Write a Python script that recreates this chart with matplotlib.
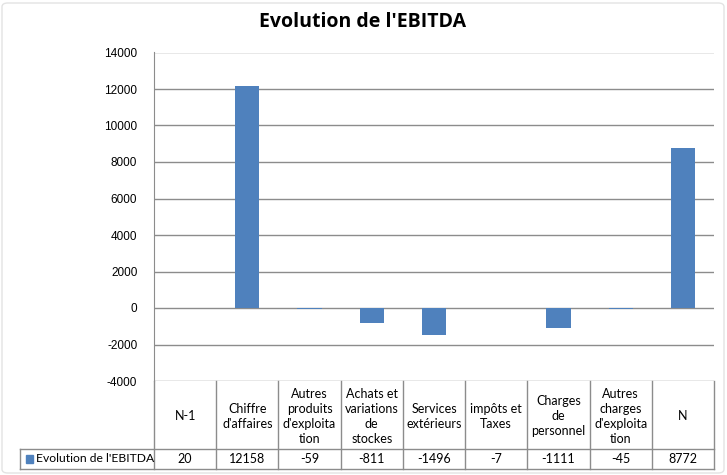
import matplotlib.pyplot as plt
from matplotlib.patches import FancyBboxPatch, Rectangle

categories = ["N-1", "Chiffre\nd'affaires", "Autres\nproduits\nd'exploita\ntion",
              "Achats et\nvariations\nde\nstockes", "Services\nextérieurs",
              "impôts et\nTaxes", "Charges\nde\npersonnel",
              "Autres\ncharges\nd'exploita\ntion", "N"]
values = [20, 12158, -59, -811, -1496, -7, -1111, -45, 8772]
series_name = "Evolution de l'EBITDA"
yticks = list(range(-4000, 14001, 2000))

bar_color = "#4F81BD"
line_color = "#8C8C8C"
plt.rcParams['font.family'] = ['Lato', 'DejaVu Sans']

fig = plt.figure(figsize=(7.27, 4.75), dpi=100)
W, H = 727, 475
# plot area: x 154..714, y 52.5..381 px
ax = fig.add_axes([154 / W, (H - 381) / H, 560 / W, 328.5 / H])

x = list(range(len(values)))
ax.bar(x, values, width=0.39, color=bar_color, zorder=3)
ax.set_xlim(-0.5, len(values) - 0.5)
ax.set_ylim(-4000, 14000)
ax.set_yticks(yticks)
ax.set_yticklabels([str(t) for t in yticks], fontsize=8.5, family=['Liberation Sans'])
ax.tick_params(axis='y', length=0, pad=12)
ax.set_xticks([])
ax.grid(axis='y', color=line_color, lw=1, zorder=0)
for s in ['top', 'right', 'bottom']:
    ax.spines[s].set_visible(False)
ax.spines['left'].set_color(line_color)

fig.suptitle("Evolution de l'EBITDA", x=363 / W, y=1 - 22 / H, va='center',
             fontsize=14, fontweight='bold', family=['Open Sans', 'DejaVu Sans'])

# data table below the axis
tr = ax.get_xaxis_transform()
ph = 328.5
y_head = -68 / ph
y_data = -88 / ph
x_left = -0.5 - 134 / (560 / len(values))
x_right = len(values) - 0.5
kw = dict(transform=tr, color=line_color, lw=1, clip_on=False)
for i in range(len(values) + 1):
    ax.plot([i - 0.5, i - 0.5], [0, y_data], **kw)
ax.plot([x_left, x_right], [y_head, y_head], **kw)
ax.plot([x_left, x_right], [y_data, y_data], **kw)
ax.plot([x_left, x_left], [y_head, y_data], **kw)

for i, (c, v) in enumerate(zip(categories, values)):
    ax.text(i, y_head / 2 - 0.004, c, transform=tr, ha='center', va='center',
            fontsize=9, linespacing=1.3, clip_on=False)
    ax.text(i, (y_head + y_data) / 2, str(v), transform=tr, ha='center',
            va='center', fontsize=9, clip_on=False)

ax.add_patch(Rectangle((x_left + 0.09, (y_head + y_data) / 2 - 0.012), 0.12, 0.024,
                       transform=tr, color=bar_color, clip_on=False))
ax.text(x_left + 0.26, (y_head + y_data) / 2, series_name, transform=tr,
        ha='left', va='center', fontsize=8.7, clip_on=False)

fig.patches.append(FancyBboxPatch((2 / W, 2 / H), 722 / W, 470 / H,
                                  boxstyle="round,pad=0,rounding_size=0.008",
                                  transform=fig.transFigure, fill=False,
                                  ec="#E3E3E3", lw=1))

fig.savefig("out.png", dpi=100)
